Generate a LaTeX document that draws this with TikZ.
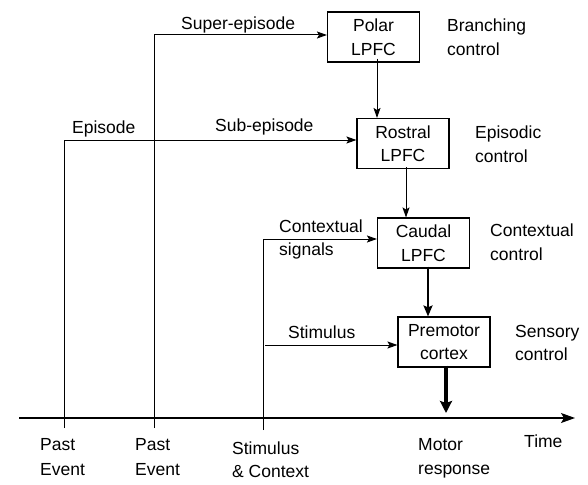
\documentclass[tikz,border=0pt]{standalone}
\usepackage{fontspec}
\setmainfont{Liberation Sans}
\usetikzlibrary{arrows.meta}
\begin{document}
\begin{tikzpicture}[x=1pt,y=-1pt,
  every node/.style={font=\fontsize{17.5}{23.5}\selectfont},
  box/.style={draw,line width=1.1pt,minimum width=92pt,minimum height=50pt,align=center,inner sep=0pt},
  lbl/.style={anchor=base west,inner sep=0pt,align=left},
  thin/.style={line width=1pt},
  arr/.style={thin,-{Stealth[length=10pt,width=7pt,inset=2pt]}},
  arrB/.style={line width=2.2pt,-{Stealth[length=11pt,width=9pt,inset=2pt]}},
  arrC/.style={line width=3.6pt,-{Stealth[length=12pt,width=12pt,inset=2pt]}},
  axarr/.style={line width=1.2pt,-{Stealth[length=14pt,width=10pt,inset=3pt]}}]
\useasboundingbox (0,0) rectangle (588,484);

% boxes
\node[box] (polar) at (373.5,37) {Polar\\LPFC};
\node[box] (rostral) at (403,143.5) {Rostral\\LPFC};
\node[box] (caudal) at (423.5,243) {Caudal\\LPFC};
\node[box] (premotor) at (444,342) {Premotor\\cortex};

% axis
\coordinate (axstart) at (19,418);
\coordinate (axend) at (575,418);
\draw[axarr] (axstart) -- (axend);

% vertical event lines
\coordinate (pe1bot) at (64,428);
\coordinate (pe1top) at (64,140);
\coordinate (pe2bot) at (154,428);
\coordinate (pe2top) at (154,35);
\coordinate (scbot) at (263,430);
\coordinate (sctop) at (263,239);
\coordinate (stimstart) at (265,345);

\draw[thin] (pe1bot) -- (pe1top);
\draw[arr] (pe1top) -- (pe1top -| rostral.west);
\draw[thin] (pe2bot) -- (pe2top);
\draw[arr] (pe2top) -- (pe2top -| polar.west);
\draw[thin] (scbot) -- (sctop);
\draw[arr] (sctop) -- (sctop -| caudal.west);
\draw[arr] (stimstart) -- (stimstart -| premotor.west);

% descending arrows
\draw[arr] ([xshift=3.5pt,yshift=4pt]polar.south) -- ([xshift=3.5pt]polar.south |- rostral.north);
\draw[arr] ([xshift=3pt,yshift=2pt]rostral.south) -- ([xshift=3pt]rostral.south |- caudal.north);
\draw[arrB] ([xshift=4.5pt,yshift=2pt]caudal.south) -- ([xshift=4.5pt]caudal.south |- premotor.north);
\coordinate (motor) at (446,413);
\draw[arrC] ([xshift=2pt,yshift=2pt]premotor.south) -- (motor);

% connector labels
\node[lbl] (lsuper) at (181,30) {Super-episode};
\node[lbl] (lepi) at (72,133) {Episode};
\node[lbl] (lsub) at (215,131) {Sub-episode};
\node[lbl] (lctx) at (279,232) {Contextual};
\node[lbl] (lsig) at (279,255) {signals};
\node[lbl] (lstim) at (288,338) {Stimulus};

% right-side labels
\node[lbl] (r1a) at (447,32) {Branching};
\node[lbl] (r1b) at (447,56) {control};
\node[lbl] (r2a) at (475,138) {Episodic};
\node[lbl] (r2b) at (475,162) {control};
\node[lbl] (r3a) at (490,236) {Contextual};
\node[lbl] (r3b) at (490,260) {control};
\node[lbl] (r4a) at (515,337) {Sensory};
\node[lbl] (r4b) at (515,360) {control};

% bottom labels
\node[lbl] (b1a) at (40,450) {Past};
\node[lbl] (b1b) at (40,475) {Event};
\node[lbl] (b2a) at (135,450) {Past};
\node[lbl] (b2b) at (135,475) {Event};
\node[lbl] (b3a) at (232,454) {Stimulus};
\node[lbl] (b3b) at (232,477) {\& Context};
\node[lbl] (b4a) at (418,450) {Motor};
\node[lbl] (b4b) at (418,474) {response};
\node[lbl] (btime) at (524,447) {Time};
\end{tikzpicture}
\end{document}
